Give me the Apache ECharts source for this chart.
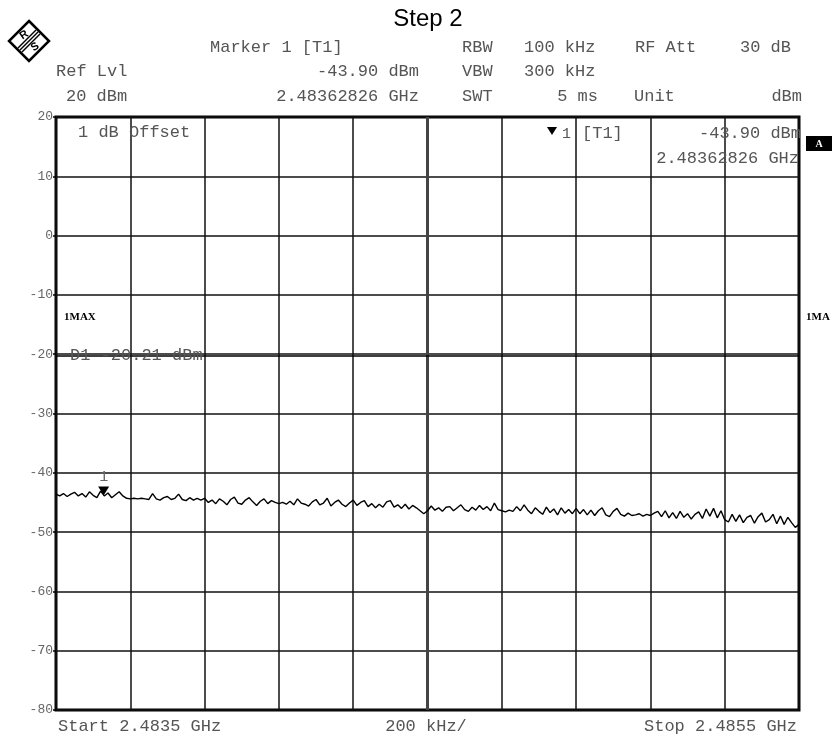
<!DOCTYPE html>
<html>
<head>
<meta charset="utf-8">
<script src="https://cdn.jsdelivr.net/npm/echarts@6/dist/echarts.min.js"></script>
<style>
html,body{margin:0;padding:0;background:#fff;}
#chart{width:835px;height:736px;}
</style>
</head>
<body>
<div id="chart"></div>
<script>
// ---- data ----
var startGHz = 2.4835;
var stopGHz = 2.4855;
var stepKHz = 10;            // one trace point every 10 kHz (201 points)
var yTicks = [20, 10, 0, -10, -20, -30, -40, -50, -60, -70, -80];
var displayLineD1 = -20.21;
var marker1 = { offsetKHz: 128.26, level: -43.90, freq: '2.48362826 GHz' };
var traceLevels = [
  -43.6,-43.9,-43.5,-44.0,-43.6,-43.3,-43.9,-43.5,-44.1,-43.2,-43.8,-44.2,-43.1,-43.9,-43.4,-44.2,-43.7,-43.2,-43.9,-44.3,
  -44.4,-44.3,-44.4,-44.3,-44.4,-44.5,-43.5,-44.4,-44.6,-44.2,-44.0,-44.5,-44.3,-43.6,-44.5,-44.7,-44.2,-44.6,-44.3,-44.6,
  -44.3,-45.0,-44.6,-45.2,-44.4,-44.8,-45.4,-44.5,-44.1,-45.1,-45.3,-44.6,-44.2,-44.9,-45.5,-44.8,-44.4,-45.2,-44.7,-45.0,
  -45.2,-45.0,-45.3,-44.8,-45.4,-44.4,-45.1,-45.3,-45.6,-44.9,-44.5,-45.4,-45.1,-44.3,-45.6,-45.0,-44.6,-45.3,-45.7,-45.1,
  -44.6,-45.5,-45.0,-44.7,-45.7,-45.2,-45.9,-45.3,-45.8,-44.9,-44.7,-45.8,-45.4,-46.0,-45.3,-46.1,-45.5,-45.9,-46.4,-46.9,
  -46.4,-45.6,-46.3,-45.9,-46.5,-45.8,-45.7,-46.4,-45.9,-45.4,-46.2,-46.5,-45.8,-46.3,-45.5,-46.2,-45.7,-46.4,-45.1,-46.2,
  -46.4,-46.6,-46.3,-46.5,-45.7,-46.4,-45.4,-46.3,-46.9,-45.9,-46.5,-47.0,-45.8,-46.7,-46.1,-47.1,-45.9,-46.8,-46.2,-46.9,
  -46.0,-46.9,-46.2,-47.1,-46.3,-47.2,-46.4,-45.9,-47.1,-47.4,-46.5,-46.0,-47.0,-47.3,-46.8,-47.2,-47.1,-46.9,-47.3,-47.0,
  -47.2,-46.8,-46.5,-47.4,-46.4,-47.6,-46.7,-47.7,-46.5,-47.5,-46.9,-47.8,-47.0,-46.6,-47.7,-46.1,-47.3,-46.0,-47.6,-46.4,
  -47.9,-48.3,-47.0,-48.2,-47.1,-48.4,-47.5,-47.2,-48.5,-47.4,-46.8,-48.3,-47.9,-47.0,-48.6,-47.3,-48.7,-47.5,-48.4,-49.2,
  -48.7
];

// ---- build ----
var spanKHz = Math.round((stopGHz - startGHz) * 1e6);
var traceData = traceLevels.map(function (v, i) { return [i * stepKHz, v]; });

var mono = '"Liberation Mono", "Courier New", monospace';
var txtCol = '#555';

function t(x, y, s, opt) {
  opt = opt || {};
  return {
    type: 'text', x: x, y: y, z: 100,
    style: {
      text: s,
      fill: opt.fill || txtCol,
      font: (opt.weight || 'normal') + ' ' + (opt.size || 17) + 'px ' + (opt.family || mono),
      textAlign: opt.align || 'left',
      textVerticalAlign: 'middle'
    }
  };
}

var chart = echarts.init(document.getElementById('chart'), null, { renderer: 'canvas' });
chart.setOption({
  backgroundColor: '#fff',
  animation: false,
  grid: { left: 56, right: 36, top: 117, bottom: 26, show: true, borderColor: '#000', borderWidth: 3, backgroundColor: 'transparent' },
  xAxis: {
    type: 'value', min: 0, max: spanKHz, interval: 200,
    axisLine: { show: false }, axisTick: { show: false }, axisLabel: { show: false },
    splitLine: { show: true, lineStyle: { color: '#111', width: 1.5 } }
  },
  yAxis: {
    type: 'value', min: yTicks[yTicks.length - 1], max: yTicks[0], interval: 10,
    axisLine: { show: false },
    axisTick: { show: true, length: 3, lineStyle: { color: '#000', width: 1.5 } },
    axisLabel: { color: '#666', fontFamily: mono, fontSize: 13, margin: 3, verticalAlign: 'middle' },
    splitLine: { show: true, lineStyle: { color: '#111', width: 1.5 } }
  },
  series: [{
    type: 'line',
    data: traceData,
    showSymbol: false,
    lineStyle: { color: '#000', width: 1.4 },
    z: 5,
    markLine: {
      silent: true, symbol: 'none', label: { show: false },
      data: [
        { xAxis: spanKHz / 2, lineStyle: { color: '#444', width: 3, type: 'solid' } },
        { yAxis: displayLineD1, lineStyle: { color: '#000', width: 1.5, type: 'solid' } }
      ]
    },
    markPoint: {
      silent: true,
      symbol: 'triangle', symbolRotate: 180, symbolSize: [11, 9], symbolOffset: [0, -5],
      itemStyle: { color: '#000' },
      label: { show: true, position: 'top', distance: 2, formatter: '1', color: '#666', fontFamily: mono, fontSize: 15 },
      data: [{ coord: [marker1.offsetKHz, marker1.level] }]
    }
  }],
  graphic: [
    // title
    { type: 'text', x: 428, y: 19, z: 100, style: { text: 'Step 2', fill: '#000', font: 'normal 24px "Liberation Sans", Arial, sans-serif', textAlign: 'center', textVerticalAlign: 'middle' } },
    // R&S logo
    { type: 'polygon', z: 100, shape: { points: [[29, 21], [49, 41], [29, 61], [9, 41]] }, style: { fill: '#fff', stroke: '#000', lineWidth: 2.5 } },
    { type: 'line', z: 101, shape: { x1: 36, y1: 30, x2: 18, y2: 48 }, style: { stroke: '#000', lineWidth: 1.5 } },
    { type: 'line', z: 101, shape: { x1: 38, y1: 32, x2: 20, y2: 50 }, style: { stroke: '#000', lineWidth: 1.5 } },
    { type: 'line', z: 101, shape: { x1: 40, y1: 34, x2: 22, y2: 52 }, style: { stroke: '#000', lineWidth: 1.5 } },
    { type: 'text', x: 24, y: 35, z: 102, rotation: 0.6, style: { text: 'R', fill: '#000', font: 'bold 11px "Liberation Sans", Arial', textAlign: 'center', textVerticalAlign: 'middle' } },
    { type: 'text', x: 35, y: 47, z: 102, rotation: 0.6, style: { text: 'S', fill: '#000', font: 'bold 11px "Liberation Sans", Arial', textAlign: 'center', textVerticalAlign: 'middle' } },
    // header row 1
    t(210, 47, 'Marker 1 [T1]'),
    t(462, 47, 'RBW'),
    t(524, 47, '100 kHz'),
    t(635, 47, 'RF Att'),
    t(791, 47, '30 dB', { align: 'right' }),
    // header row 2
    t(56, 71, 'Ref Lvl'),
    t(419, 71, '-43.90 dBm', { align: 'right' }),
    t(462, 71, 'VBW'),
    t(524, 71, '300 kHz'),
    // header row 3
    t(66, 96, '20 dBm'),
    t(419, 96, '2.48362826 GHz', { align: 'right' }),
    t(462, 96, 'SWT'),
    t(598, 96, '5 ms', { align: 'right' }),
    t(634, 96, 'Unit'),
    t(802, 96, 'dBm', { align: 'right' }),
    // in-plot annotations
    t(78, 132, '1 dB Offset'),
    { type: 'polygon', z: 100, shape: { points: [[547, 127], [557, 127], [552, 135]] }, style: { fill: '#000' } },
    t(562, 134, '1', { size: 15 }),
    t(582, 133, '[T1]'),
    t(801, 133, '-43.90 dBm', { align: 'right' }),
    t(799, 158, '2.48362826 GHz', { align: 'right' }),
    t(64, 317, '1MAX', { weight: 'bold', size: 11, fill: '#000', family: '"Liberation Serif", serif' }),
    t(806, 317, '1MA', { weight: 'bold', size: 11, fill: '#000', family: '"Liberation Serif", serif' }),
    t(70, 355, 'D1 -20.21 dBm'),
    // "A" box
    { type: 'rect', z: 100, shape: { x: 806, y: 136, width: 26, height: 15 }, style: { fill: '#000' } },
    { type: 'text', x: 819, y: 144, z: 101, style: { text: 'A', fill: '#fff', font: 'bold 10px "Liberation Serif", serif', textAlign: 'center', textVerticalAlign: 'middle' } },
    // bottom
    t(58, 726, 'Start 2.4835 GHz'),
    t(426, 726, '200 kHz/', { align: 'center' }),
    t(797, 726, 'Stop 2.4855 GHz', { align: 'right' })
  ]
});
</script>
</body>
</html>
